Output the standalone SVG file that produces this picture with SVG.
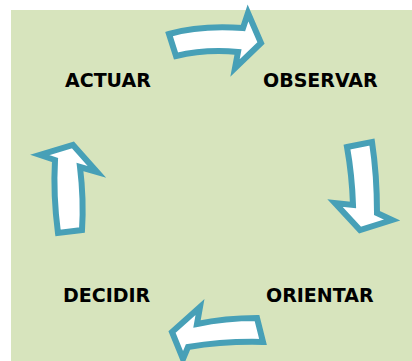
<svg xmlns="http://www.w3.org/2000/svg" width="412" height="361" viewBox="0 0 412 361">
<style>
.arrow{fill:#ffffff;stroke:#47a0b7;stroke-width:6;stroke-linejoin:miter}
.lbl{font-family:"DejaVu Sans",Verdana,sans-serif;font-weight:bold;font-size:19px;fill:#000}
</style>
<rect x="11" y="10" width="401" height="351" fill="#d7e4bd"/>
<g id="connectors">
<path class="arrow" d="M169,34 Q200,25 243,28 L248,13 L261,43 L235,68 L238,52 Q205,49 176,56 Z"/>
<path class="arrow" d="M347,147 L372,142 Q377,175 377,213 L392,220 L360,230 L335,203 L353,205 Q352,175 347,147 Z"/>
<path class="arrow" d="M257,318 L263,342 Q225,341 188,347 L183,359 L172,332 L200,307 L197,324 Q225,318 257,318 Z"/>
<path class="arrow" d="M73,145 L97,172 L80,167 Q84,200 82,230 L58,233 Q53,195 55,160 L40,155 Z"/>
</g>
<g id="actuar"><text class="lbl" x="65" y="87">ACTUAR</text></g>
<g id="observar"><text class="lbl" x="263" y="87">OBSERVAR</text></g>
<g id="decidir"><text class="lbl" x="63" y="302">DECIDIR</text></g>
<g id="orientar"><text class="lbl" x="266" y="302">ORIENTAR</text></g>
</svg>
